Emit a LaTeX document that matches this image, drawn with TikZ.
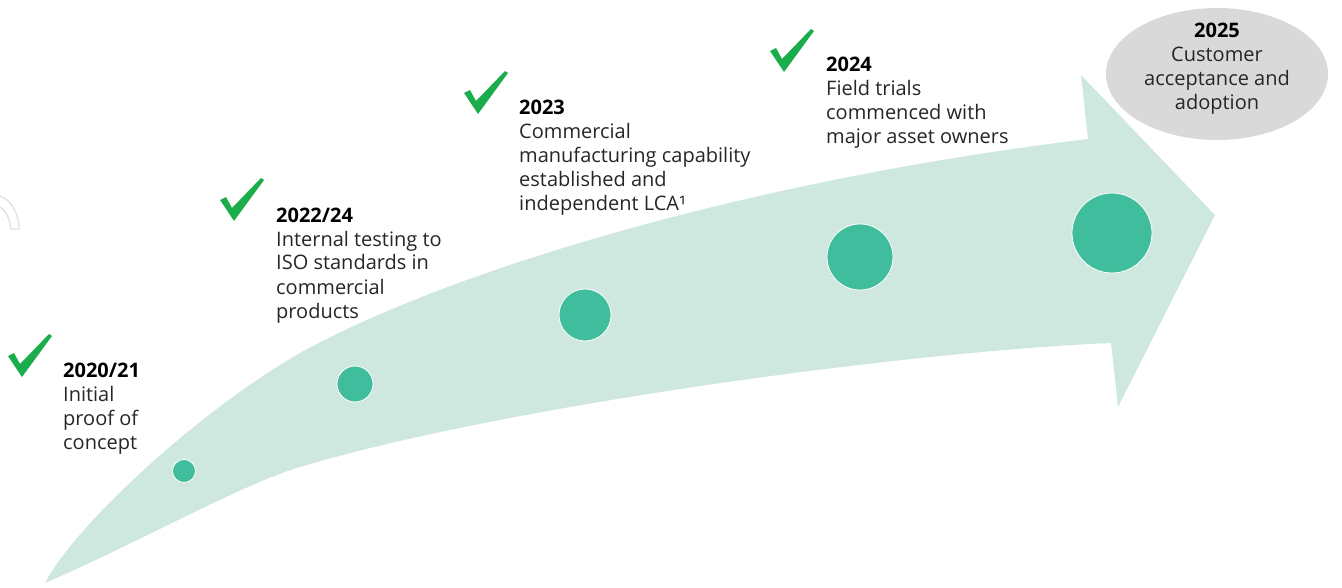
\documentclass[tikz,border=0pt]{standalone}
\usepackage{fontspec}
\setmainfont{Open Sans}
\usepackage{tikz}
\usetikzlibrary{positioning,calc,shapes.geometric}

\definecolor{arrowmint}{HTML}{CFE8DF}
\definecolor{dotgreen}{HTML}{40BD9C}
\definecolor{tickgreen}{HTML}{1BAD4B}
\definecolor{bubblegrey}{HTML}{D9D9D9}
\definecolor{inkgrey}{HTML}{262626}

\begin{document}
\begin{tikzpicture}[x=1pt,y=-1pt,
			dot/.style={circle,fill=dotgreen,draw=white,line width=0.8pt,inner sep=0pt},
			stage/.style={anchor=base west,align=left,inner sep=0pt,text=inkgrey,font=\fontsize{20}{24}\selectfont},
			bubble/.style={ellipse,fill=bubblegrey,inner sep=0pt,minimum width=222pt,minimum height=132pt},
			tick/.pic={\fill[tickgreen] (-12,-19) -- (-6,-22) -- (0,-11) -- (29,-41) -- (32,-39) -- (2,2) -- cycle;}]
		\useasboundingbox (0,0) rectangle (1342,588);
		\draw[black!13,line width=1.2pt] (0,196) .. controls (12,200) and (19,215) .. (19,229) -- (11,229) .. controls (10,218) and (5,210) .. (0,207);
		\fill[arrowmint] (45,583) .. controls (75,525) and (200,410) .. (300,353)
			.. controls (450,270) and (750,180) .. (1088,139)
			-- (1081,75) -- (1215,215) -- (1118,407) -- (1111,343)
			.. controls (900,352) and (500,407) .. (300,467)
			.. controls (240,485) and (140,542) .. (45,583) -- cycle;
		\path 	(184,471) 	node 	(m1) [dot, minimum size=23pt] {}
		        (355,384) 	node 	(m2) [dot, minimum size=36pt] {}
		        (585,315) 	node 	(m3) [dot, minimum size=52pt] {}
		        (860,257) 	node 	(m4) [dot, minimum size=66pt] {}
		        (1112,233) 	node 	(m5) [dot, minimum size=80pt] {};
		\path 	(20,375) pic {tick}
		        (232,219) pic {tick}
		        (476,112) pic {tick}
		        (782,70) pic {tick};
		\path 	(63,449) 	node 	(s1) [stage] {\textbf{\color{black}2020/21}\\Initial\\proof of\\concept}
		        (276,318) 	node 	(s2) [stage] {\textbf{\color{black}2022/24}\\Internal testing to\\ISO standards in\\commercial\\products}
		        (519,211) 	node 	(s3) [stage] {\textbf{\color{black}2023}\\Commercial\\manufacturing capability\\established and\\independent LCA¹}
		        (826,144) 	node 	(s4) [stage] {\textbf{\color{black}2024}\\Field trials\\commenced with\\major asset owners};
		\node (e5) [bubble] at (1217,74) {};
		\node (s5) [stage, anchor=base, align=center] at (1217,110) {\textbf{\color{black}2025}\\Customer\\acceptance and\\adoption};
	\end{tikzpicture}
\end{document}
